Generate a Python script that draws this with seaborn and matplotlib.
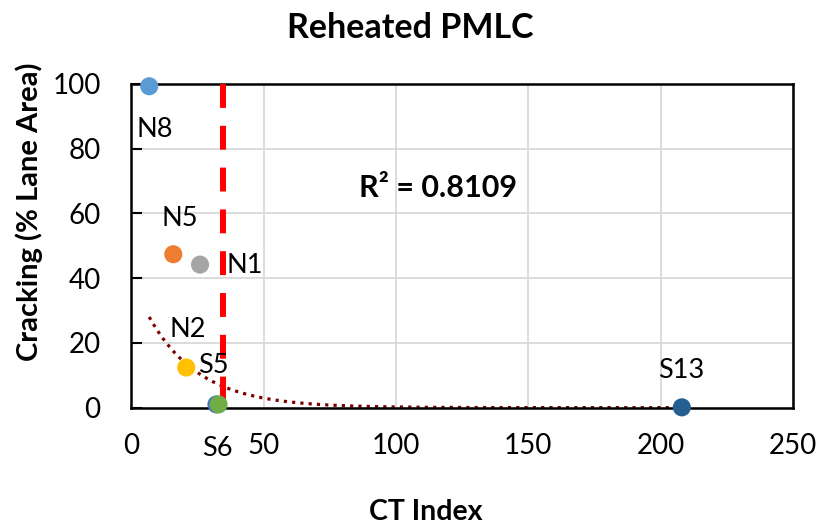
import matplotlib
matplotlib.use("Agg")
import numpy as np
import pandas as pd
import matplotlib.pyplot as plt
import seaborn as sns

# Dati
sezioni = ["N8", "N5", "N1", "N2", "S5", "S6", "S13"]
ct_index = [6.8, 15.9, 26.0, 20.8, 32.2, 33.0, 208.0]
cracking = [99.3, 47.4, 44.2, 12.4, 1.0, 1.0, 0.1]
colori = ["#5B9BD5", "#ED7D31", "#A5A5A5", "#FFC000", "#4472C4", "#70AD47", "#255E91"]

# posizione delle etichette (in coordinate dati)
label_x = [9.0, 18.5, 43.0, 21.5, 31.0, 32.5, 207.7]
label_y = [86.0, 58.5, 43.8, 24.0, 13.0, -12.5, 11.4]

# trendline esponenziale (Excel): y = a * exp(b * x)
trend_a = 39.9
trend_b = -0.052
r2_text = "R² = 0.8109"
soglia_ct = 34.5

sns.set_theme(style="white")
plt.rcParams['font.family'] = ['Lato', 'DejaVu Sans']
plt.rcParams['text.color'] = 'black'

df = pd.DataFrame({"Sezione": sezioni, "CT": ct_index, "Cracking": cracking})

fig = plt.figure(figsize=(8.2, 5.25), dpi=100)
ax = fig.add_axes([0.16, 0.2235, 0.8071, 0.6165])

# griglia
ax.set_axisbelow(True)
ax.grid(True, color="#D9D9D9", linewidth=1.3)

# trendline
x_tr = np.linspace(min(ct_index), max(ct_index), 300)
ax.plot(x_tr, trend_a * np.exp(trend_b * x_tr), linestyle=(0, (1, 1.6)),
        color="#7F0000", linewidth=2.3, zorder=2)

# linea di soglia (disegnata dall'alto verso il basso, come in Excel)
ax.plot([soglia_ct, soglia_ct], [100, 0], color="#FF0000", linewidth=4.3,
        linestyle=(0, (4, 3)), zorder=3, solid_capstyle="butt", dash_capstyle="butt")

sns.scatterplot(data=df, x="CT", y="Cracking", hue="Sezione", palette=colori,
                s=170, edgecolor="none", legend=False, ax=ax, zorder=4, clip_on=False)

for nome, lx, ly in zip(sezioni, label_x, label_y):
    ax.text(lx, ly, nome, fontsize=19.5, ha="center", va="center", color="black", clip_on=False)

ax.text(116, 68, r2_text, fontsize=22, fontweight="bold", ha="center", va="center", color="black")

ax.set_xlim(0, 250)
ax.set_ylim(0, 100)
ax.set_xticks([0, 50, 100, 150, 200, 250])
ax.set_yticks([0, 20, 40, 60, 80, 100])
ax.tick_params(axis="x", length=0, labelsize=20, pad=18, colors="black")
ax.tick_params(axis="y", direction="in", length=8, width=1.5, labelsize=20, pad=22, colors="black", left=True)

for sp in ax.spines.values():
    sp.set_visible(True)
    sp.set_color("black")
    sp.set_linewidth(1.8)

ax.set_xlabel("")
ax.set_ylabel("")

# titolo ed etichette degli assi posizionati come nell'originale
fig.text(410 / 820, 1 - 28 / 525, "Reheated PMLC", fontsize=24.5, fontweight="bold",
         ha="center", va="center")
fig.text(426 / 820, 1 - 512 / 525, "CT Index", fontsize=20.5, fontweight="bold",
         ha="center", va="center")
fig.text(29 / 820, 1 - 212 / 525, "Cracking (% Lane Area)", fontsize=21, fontweight="bold",
         ha="center", va="center", rotation=90)

fig.savefig("out.png", dpi=100)
